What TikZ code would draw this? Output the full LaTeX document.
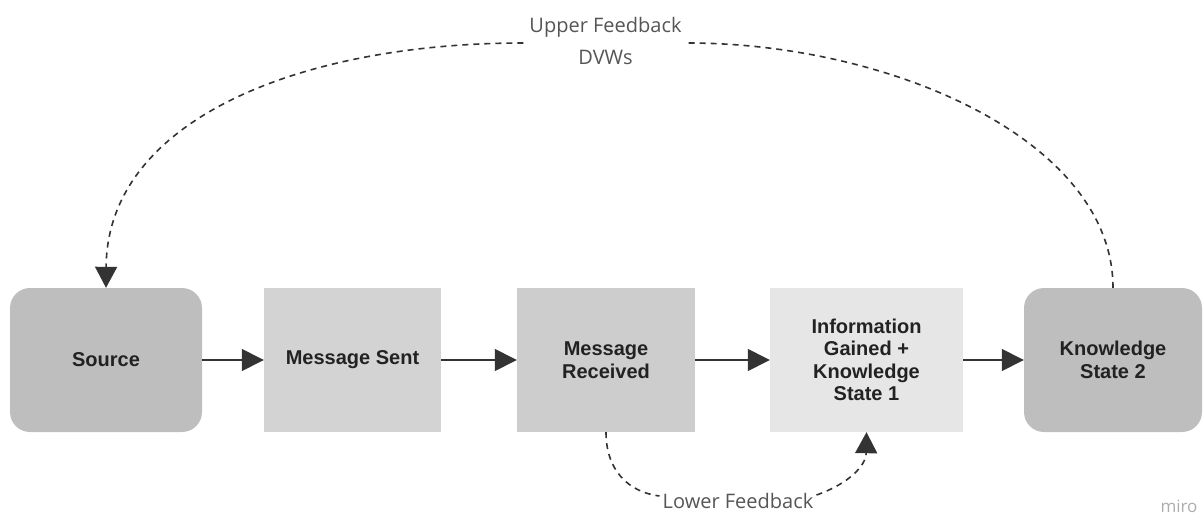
\documentclass[tikz,border=0pt]{standalone}
\usepackage{fontspec}
\setmainfont{Liberation Sans}
\newfontfamily\notefont{Open Sans}
\usetikzlibrary{arrows.meta}

\definecolor{boxdark}{HTML}{BEBEBE}
\definecolor{boxmid}{HTML}{CDCDCD}
\definecolor{boxsent}{HTML}{D3D3D3}
\definecolor{boxlight}{HTML}{E6E6E6}
\definecolor{inkdark}{HTML}{222222}
\definecolor{linegray}{HTML}{333333}
\definecolor{notegray}{HTML}{555555}

\tikzset{
  stage/.style={rectangle, draw=none, minimum height=144pt, align=center,
    text=inkdark, font=\fontsize{20}{22.5}\selectfont\bfseries, inner sep=0pt},
  roundstage/.style={stage, rounded corners=20pt},
  flow/.style={draw=linegray, line width=1.4pt,
    -{Triangle[length=22pt,width=22pt]}},
  feedback/.style={draw=linegray, line width=1.6pt, dash pattern=on 6pt off 5pt},
  feedbackarrow/.style={feedback, -{Triangle[length=21pt,width=22pt]}},
  note/.style={text=notegray, font=\notefont\fontsize{20}{32}\selectfont,
    align=center, inner sep=6pt}
}

\begin{document}
\begin{tikzpicture}[x=1pt, y=-1pt]
  \useasboundingbox (0,0) rectangle (1203,514);

  % process stages
  \node[roundstage, fill=boxdark, minimum width=192pt] (src) at (106,360) {Source};
  \node[stage, fill=boxsent, minimum width=177pt] (sent) at (352.5,360) {Message Sent};
  \node[stage, fill=boxmid, minimum width=178pt] (recv) at (606,360) {Message\\Received};
  \node[stage, fill=boxlight, minimum width=193pt] (info) at (866.5,360)
    {Information\\Gained +\\Knowledge\\State 1};
  \node[roundstage, fill=boxdark, minimum width=178pt] (ks2) at (1113,360)
    {Knowledge\\State 2};

  % forward flow
  \draw[flow] (src) -- (sent);
  \draw[flow] (sent) -- (recv);
  \draw[flow] (recv) -- (info);
  \draw[flow] (info) -- (ks2);

  % feedback labels
  \node[note] (upper) at (605.5,41) {Upper Feedback\\DVWs};
  \node[note, inner sep=3pt] (lower) at (738,501) {Lower Feedback};

  % upper feedback loop
  \draw[feedback] (ks2.north) .. controls (1113,140) and (890,43) .. (upper.east |- 0,43);
  \draw[feedbackarrow] (upper.west |- 0,43) .. controls (300,43) and (107,120) .. (src.north);

  % lower feedback loop
  \draw[feedback] (recv.south) .. controls (606,470) and (628,492) .. (lower.west |- 0,496);
  \draw[feedbackarrow] (lower.east |- 0,495) .. controls (848,484) and (866,466) .. (info.south);

  % watermark
  \node[text=black!32, font=\notefont\fontsize{17}{17}\selectfont, inner sep=0pt]
    (mark) at (1179,506) {miro};
\end{tikzpicture}
\end{document}
